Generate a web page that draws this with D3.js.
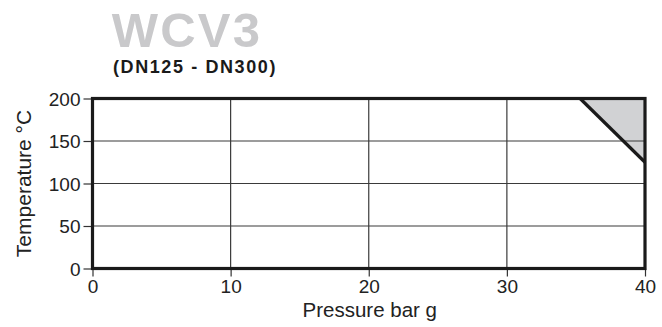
<!DOCTYPE html>
<html><head><meta charset="utf-8">
<script src="https://cdn.jsdelivr.net/npm/d3@7"></script>
<style>body{margin:0;background:#fff;} svg{display:block;font-family:"Liberation Sans",Arial,sans-serif;}</style>
</head><body>
<svg id="c" width="662" height="327"></svg>
<script>
const title = "WCV3";
const subtitle = "(DN125 - DN300)";
const xTicks = [0, 10, 20, 30, 40];
const yTicks = [0, 50, 100, 150, 200];
const xLabel = "Pressure bar g";
const yLabel = "Temperature °C";
// limit line: pressure (bar g) vs temperature (°C); shaded region is above/right of it
const limitP = [35.3, 40];
const limitT = [200, 125];

const svg = d3.select("#c");
const m = {l: 92.5, r: 645, t: 98.5, b: 268.5};
const x = d3.scaleLinear().domain([0, 40]).range([m.l, m.r]);
const y = d3.scaleLinear().domain([0, 200]).range([m.b, m.t]);

// shaded region
const pts = limitP.map((p, i) => [x(p), y(limitT[i])]);
svg.append("path")
  .attr("d", d3.line()([pts[0], [x(40), y(200)], pts[1]]) + "Z")
  .attr("fill", "#d1d2d4");

// grid
svg.append("g").selectAll("line").data(yTicks.slice(1, -1)).join("line")
  .attr("x1", m.l).attr("x2", m.r).attr("y1", d => y(d)).attr("y2", d => y(d))
  .attr("stroke", "#3a3a3a").attr("stroke-width", 1.2);
svg.append("g").selectAll("line").data(xTicks.slice(1, -1)).join("line")
  .attr("y1", m.t).attr("y2", m.b).attr("x1", d => x(d)).attr("x2", d => x(d))
  .attr("stroke", "#3a3a3a").attr("stroke-width", 1.2);

// axes
const yAxis = svg.append("g").attr("transform", `translate(${m.l},0)`)
  .call(d3.axisLeft(y).tickValues(yTicks).tickSize(9).tickPadding(3));
const xAxis = svg.append("g").attr("transform", `translate(0,${m.b})`)
  .call(d3.axisBottom(x).tickValues(xTicks).tickSize(8).tickPadding(3));
[yAxis, xAxis].forEach(a => {
  a.select(".domain").remove();
  a.selectAll("line").attr("stroke", "#333").attr("stroke-width", 1.2);
  a.selectAll("text").attr("fill", "#222").style("font-size", "19px")
    .style("font-family", "'Liberation Sans',Arial,sans-serif");
});
yAxis.selectAll("text").attr("dy", "0.36em");

// limit line
svg.append("path").attr("d", d3.line()(pts))
  .attr("stroke", "#1a1a1a").attr("stroke-width", 3.2).attr("fill", "none");

// frame
svg.append("rect").attr("x", m.l).attr("y", m.t)
  .attr("width", m.r - m.l).attr("height", m.b - m.t)
  .attr("fill", "none").attr("stroke", "#1a1a1a").attr("stroke-width", 3.2);

// titles
svg.append("text").attr("x", 187).attr("y", 47).attr("text-anchor", "middle")
  .attr("fill", "#c9c9cb").style("font-size", "49px").style("font-weight", "bold")
  .style("letter-spacing", "2.2px").text(title);
svg.append("text").attr("x", 195).attr("y", 72.5).attr("text-anchor", "middle")
  .attr("fill", "#1a1a1a").style("font-size", "18px").style("font-weight", "bold")
  .style("letter-spacing", "1.6px").text(subtitle);

svg.append("text").attr("x", (m.l + m.r) / 2 + 1).attr("y", 317).attr("text-anchor", "middle")
  .attr("fill", "#222").style("font-size", "20.5px").text(xLabel);
svg.append("text").attr("transform", `translate(31,${(m.t + m.b) / 2}) rotate(-90)`)
  .attr("text-anchor", "middle").attr("fill", "#222").style("font-size", "21px").text(yLabel);
</script>
</body></html>
